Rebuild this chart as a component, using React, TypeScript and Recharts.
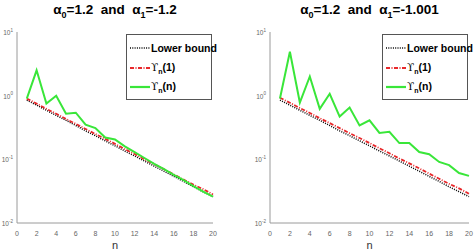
import React from 'react';
import { LineChart, Line, XAxis, YAxis } from 'recharts';

const nValues = [1, 2, 3, 4, 5, 6, 7, 8, 9, 10, 11, 12, 13, 14, 15, 16, 17, 18, 19, 20];
const xTicks = [0, 2, 4, 6, 8, 10, 12, 14, 16, 18, 20];
const yTicks = [0.01, 0.1, 1, 10];

const lowerBound = [0.85, 0.71, 0.59, 0.49, 0.41, 0.34, 0.28, 0.235, 0.195, 0.163, 0.135, 0.113, 0.094, 0.078, 0.065, 0.054, 0.045, 0.037, 0.031, 0.026];
const upsilon1 = [0.9, 0.75, 0.62, 0.52, 0.43, 0.36, 0.3, 0.25, 0.21, 0.175, 0.145, 0.121, 0.1, 0.084, 0.07, 0.058, 0.048, 0.04, 0.034, 0.028];
const upsilonNLeft = [0.9, 2.5, 0.75, 1.0, 0.52, 0.54, 0.35, 0.31, 0.22, 0.205, 0.16, 0.13, 0.105, 0.085, 0.07, 0.057, 0.047, 0.038, 0.031, 0.026];
const upsilonNRight = [0.9, 4.9, 0.78, 2.0, 0.62, 1.07, 0.47, 0.65, 0.34, 0.41, 0.26, 0.27, 0.18, 0.18, 0.13, 0.12, 0.091, 0.081, 0.061, 0.055];

const leftData = nValues.map((n, i) => ({ n, lb: lowerBound[i], u1: upsilon1[i], un: upsilonNLeft[i] }));
const rightData = nValues.map((n, i) => ({ n, lb: lowerBound[i], u1: upsilon1[i] * 1.03, un: upsilonNRight[i] }));

const FONT = '"Liberation Sans", Arial, sans-serif';
const BOX = '#9a9a9a';

const exps: Record<string, string> = { '0.01': '-2', '0.1': '-1', '1': '0', '10': '1' };

function YTick({ x, y, payload }: any) {
  return (
    <text x={x} y={y + 3} textAnchor="end" fontSize={6.5} fill="#666" fontFamily={FONT}>
      10<tspan dy={-3.5} fontSize={4.5}>{exps[String(payload.value)]}</tspan>
    </text>
  );
}

function LegendBox() {
  const rows = [
    { label: 'Lower bound', color: '#000', dash: '1 1.3', w: 1.4 },
    { label: 'ϒ', sub: 'n', tail: '(1)', color: '#e8282b', dash: '4 1.5 1 1.5', w: 1.8 },
    { label: 'ϒ', sub: 'n', tail: '(n)', color: '#39e639', dash: undefined, w: 2.2 },
  ];
  return (
    <div style={{ position: 'absolute', right: 1, top: 2, width: 86, height: 66, background: '#fff', border: '1px solid #555', boxSizing: 'border-box', fontFamily: FONT, fontWeight: 'bold', fontSize: 10.5 }}>
      {rows.map((r, i) => (
        <div key={i} style={{ position: 'absolute', left: 3, top: 6 + i * 19.5, display: 'flex', alignItems: 'center', height: 14 }}>
          <svg width={20} height={6} style={{ marginRight: 1 }}>
            <line x1={0} y1={3} x2={20} y2={3} stroke={r.color} strokeWidth={r.w} strokeDasharray={r.dash} />
          </svg>
          <span style={{ whiteSpace: 'nowrap', lineHeight: '14px' }}>
            {r.sub ? <span style={{ fontFamily: '"DejaVu Serif", serif', fontWeight: 'normal' }}>{r.label}</span> : r.label}
            {r.sub && <span style={{ fontSize: 7, position: 'relative', top: 3 }}>{r.sub}</span>}
            {r.tail}
          </span>
        </div>
      ))}
    </div>
  );
}

function Panel({ data, a1, left, width, margin }: { data: any[]; a1: string; left: number; width: number; margin: { left: number; right: number } }) {
  const plotW = width - margin.left - margin.right;
  return (
    <div style={{ position: 'absolute', left, top: 0, width, height: 252 }}>
      <div style={{ position: 'absolute', left: margin.left, width: plotW, top: 2, textAlign: 'center', fontFamily: FONT, fontWeight: 'bold', fontSize: 13.5, whiteSpace: 'nowrap' }}>
        α<sub style={{ fontSize: 9 }}>0</sub>=1.2&nbsp; and &nbsp;α<sub style={{ fontSize: 9 }}>1</sub>={a1}
      </div>
      <LineChart width={width} height={252} data={data} margin={{ top: 32, right: margin.right, left: 0, bottom: 0 }}>
        <XAxis dataKey="n" type="number" domain={[0, 20]} ticks={xTicks} height={29} tickLine={false} axisLine={{ stroke: BOX }} tick={{ fontSize: 7, fill: '#666', fontFamily: FONT }} tickMargin={2} label={{ value: 'n', position: 'insideBottom', offset: 3, fontSize: 11, fill: '#333', fontFamily: FONT }} />
        <XAxis xAxisId="top" orientation="top" dataKey="n" type="number" domain={[0, 20]} height={0} tick={false} tickLine={false} axisLine={{ stroke: BOX }} />
        <YAxis scale="log" domain={[0.01, 10]} ticks={yTicks} width={margin.left} tickSize={2} tickLine={false} axisLine={{ stroke: BOX }} tick={<YTick />} allowDataOverflow />
        <YAxis yAxisId="right" orientation="right" width={0} tick={false} tickLine={false} axisLine={{ stroke: BOX }} />
        <Line dataKey="lb" stroke="#000" strokeWidth={1.5} strokeDasharray="1 1.3" dot={false} isAnimationActive={false} />
        <Line dataKey="u1" stroke="#e8282b" strokeWidth={1.8} strokeDasharray="4 1.5 1 1.5" dot={false} isAnimationActive={false} />
        <Line dataKey="un" stroke="#39e639" strokeWidth={2} dot={false} isAnimationActive={false} />
      </LineChart>
      <div style={{ position: 'absolute', left: margin.left, top: 32, width: plotW, height: 0 }}>
        <LegendBox />
      </div>
    </div>
  );
}

export default function App() {
  return (
    <div style={{ position: 'absolute', left: 0, top: 0, width: 474, height: 252, background: '#fff' }}>
      <Panel data={leftData} a1="-1.2" left={0} width={237} margin={{ left: 17, right: 24 }} />
      <Panel data={rightData} a1="-1.001" left={237} width={237} margin={{ left: 33, right: 5 }} />
    </div>
  );
}
